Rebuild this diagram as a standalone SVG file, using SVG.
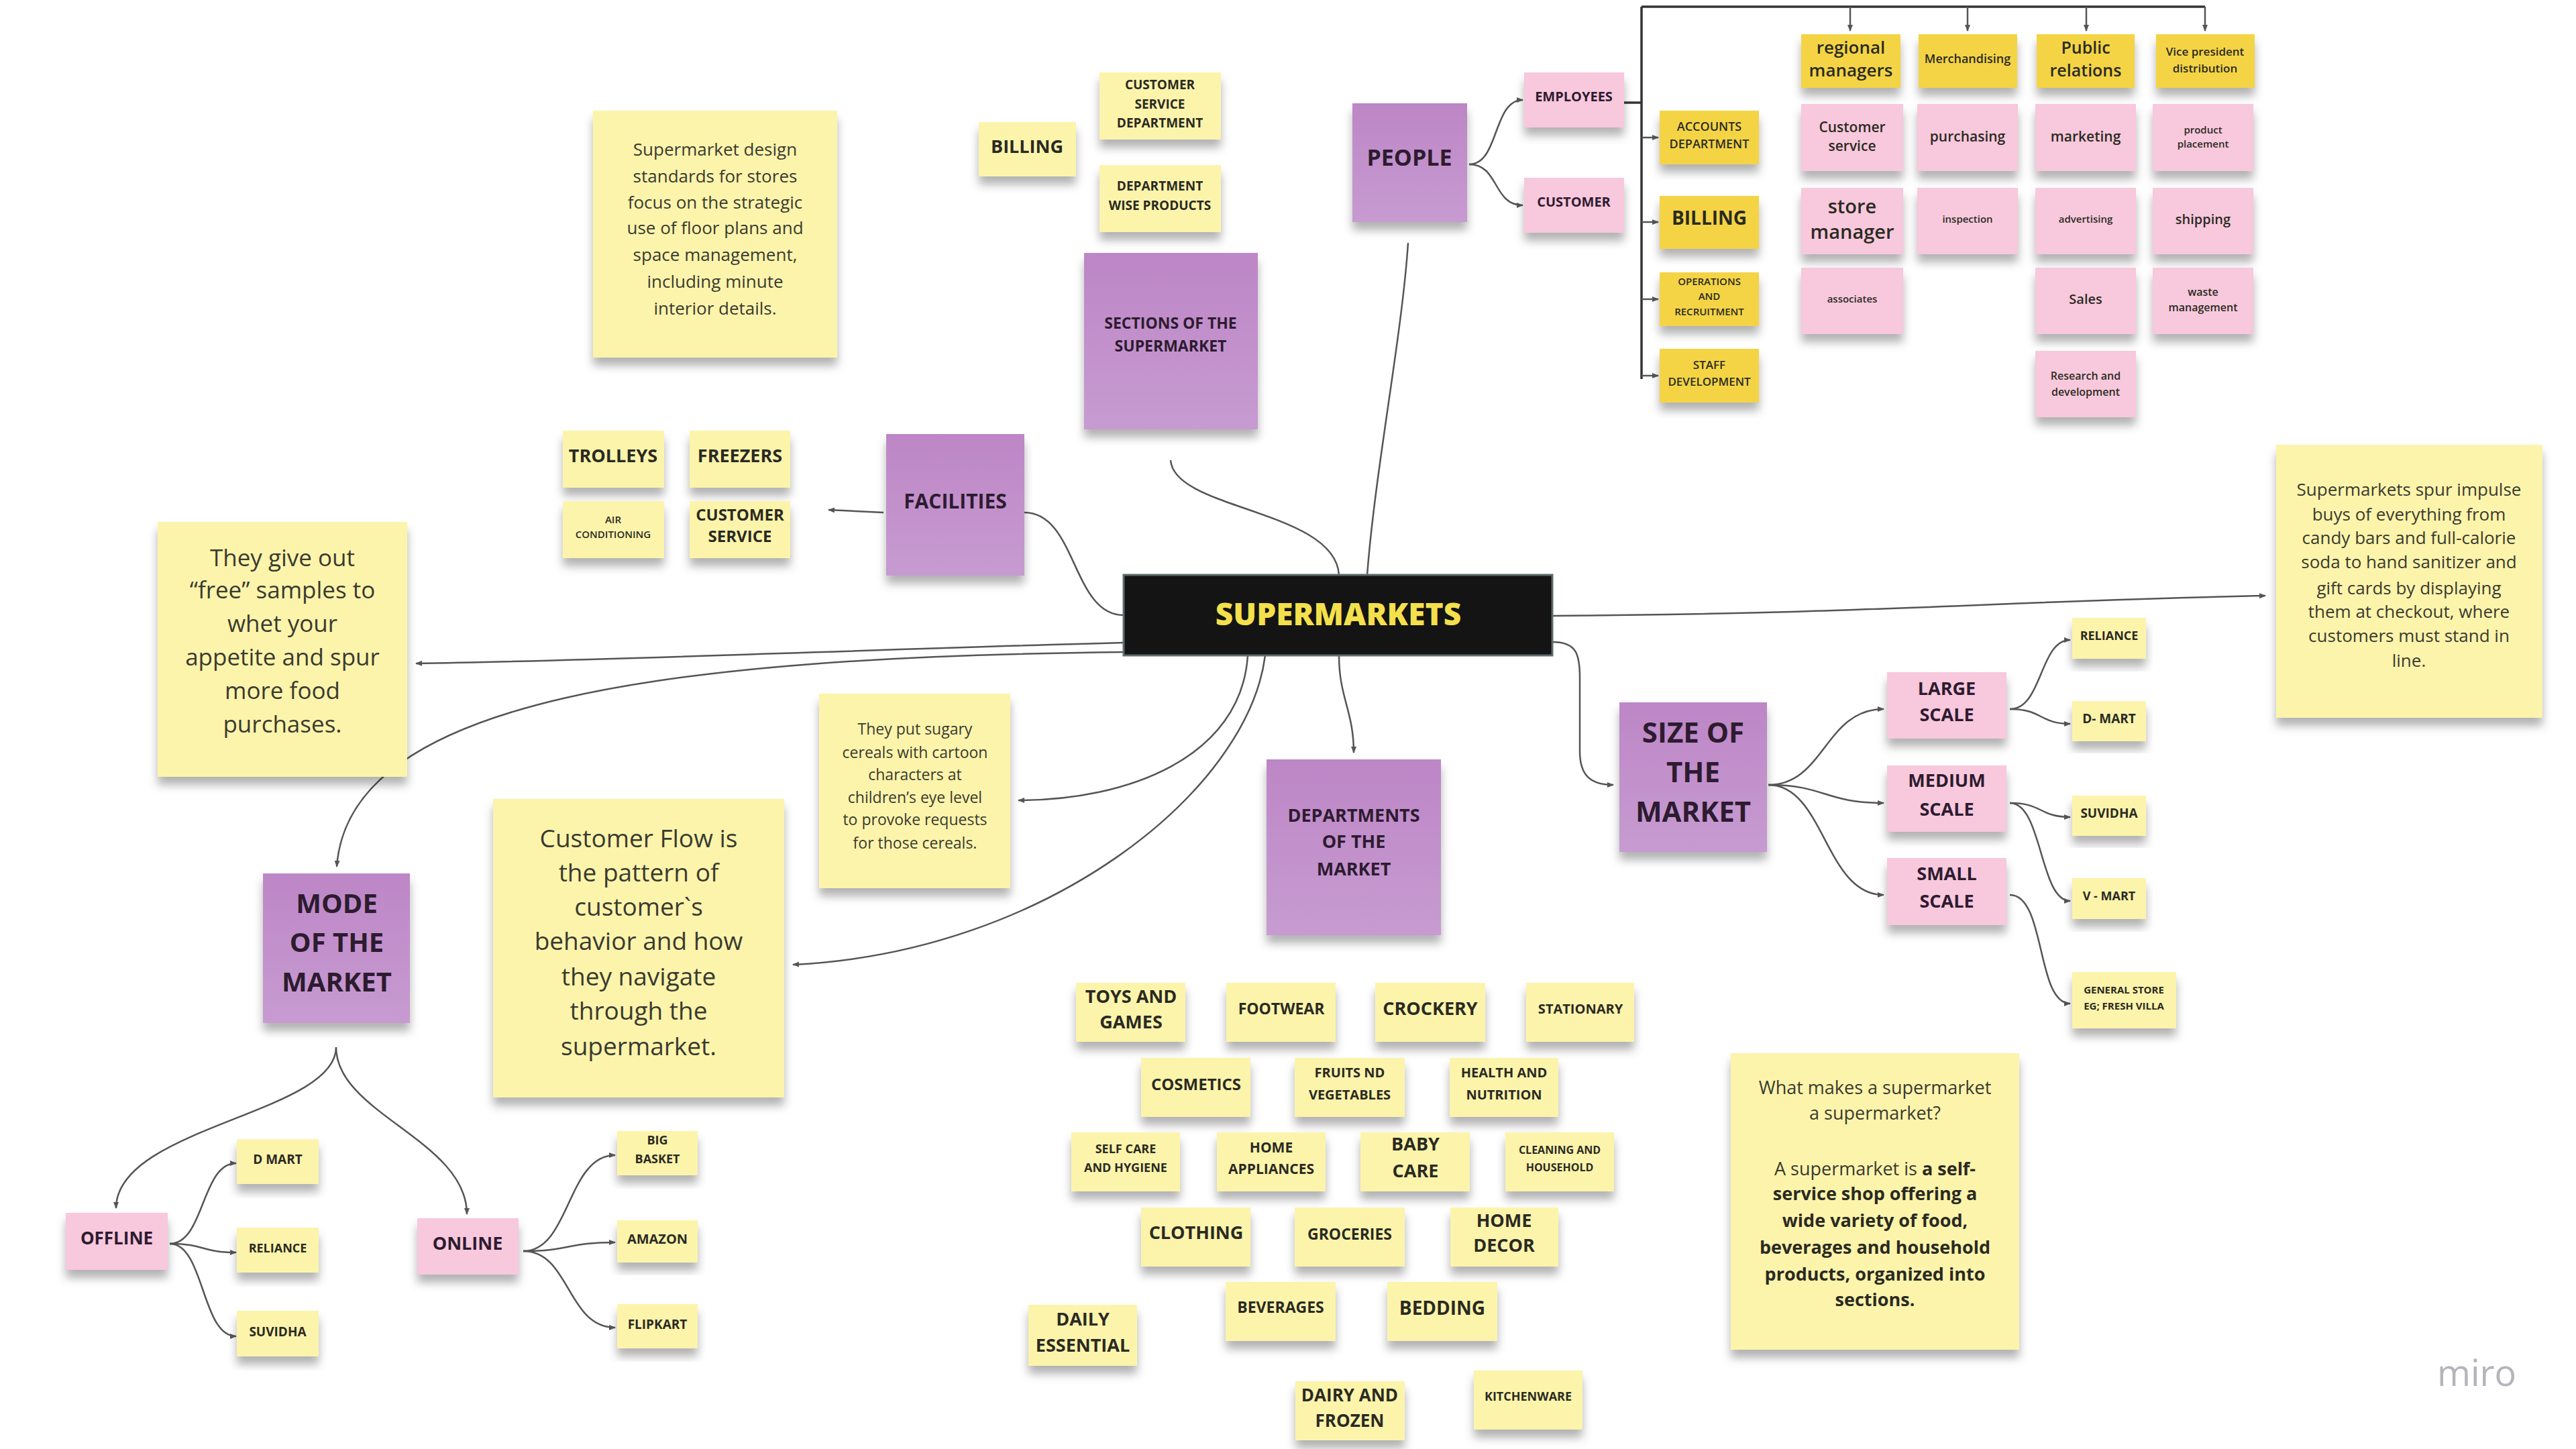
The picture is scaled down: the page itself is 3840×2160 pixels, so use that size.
<svg xmlns="http://www.w3.org/2000/svg" width="3840" height="2160" viewBox="0 0 3840 2160">
<defs>
<filter id="sh" x="-10%" y="-10%" width="120%" height="140%"><feDropShadow dx="0" dy="12" stdDeviation="7" flood-color="#000" flood-opacity="0.3"/></filter>
<linearGradient id="pg" x1="0" y1="0" x2="0" y2="1"><stop offset="0" stop-color="#bd86c6"/><stop offset="1" stop-color="#c79bd1"/></linearGradient>
<marker id="ar" viewBox="0 0 10 10" refX="9" refY="5" markerWidth="4" markerHeight="4" orient="auto-start-reverse"><path d="M0,1 L10,5 L0,9 z" fill="#555"/></marker>
<style>
.ly{fill:#fcf4ab;filter:url(#sh)}
.gd{fill:#f4d444;filter:url(#sh)}
.pk{fill:#f8c8dc;filter:url(#sh)}
.pu{fill:url(#pg);filter:url(#sh)}
.tx{font-family:"Open Sans","Liberation Sans",sans-serif;text-anchor:middle;fill:#2a2a22}
.bd{font-weight:700}
.sb{font-weight:600}
.rg{font-weight:400;fill:#3a3a30}
.pt{fill:#2d1b30;font-weight:700}
.c{fill:none;stroke:#555;stroke-width:2.5}
.ca{fill:none;stroke:#555;stroke-width:2.5;marker-end:url(#ar)}
.oc{fill:none;stroke:#333;stroke-width:3.5}
</style>
</defs>
<rect width="3840" height="2160" fill="#ffffff"/>

<g id="connectors">
<path class="oc" d="M2421,153 L2447,153 M2447,10 L2447,565 M2447,10 L3287,10"/>
<path class="ca" d="M2758,10 L2758,46"/>
<path class="ca" d="M2933,10 L2933,46"/>
<path class="ca" d="M3110,10 L3110,46"/>
<path class="ca" d="M3287,10 L3287,46"/>
<path class="ca" d="M2447,205 L2472,205"/>
<path class="ca" d="M2447,331 L2472,331"/>
<path class="ca" d="M2447,446 L2472,446"/>
<path class="ca" d="M2447,560 L2472,560"/>
<path class="ca" d="M2190,245 C2235,245 2225,149 2270,149"/>
<path class="ca" d="M2190,245 C2235,245 2225,306 2270,306"/>
<path class="c" d="M2038,857 C2050,700 2090,500 2099,362"/>
<path class="c" d="M1745,686 C1750,760 1990,760 1996,857"/>
<path class="c" d="M1527,764 C1605,764 1598,917 1675,917"/>
<path class="ca" d="M1317,764 L1235,760"/>
<path class="ca" d="M1675,958 C1300,968 900,985 620,989"/>
<path class="ca" d="M1675,972 C1000,980 520,1040 502,1292"/>
<path class="ca" d="M1860,977 C1850,1130 1680,1193 1518,1193"/>
<path class="ca" d="M1886,977 C1860,1180 1560,1420 1182,1438"/>
<path class="ca" d="M1996,977 C1996,1040 2018,1060 2018,1122"/>
<path class="ca" d="M2314,918 C2800,915 3000,895 3377,888"/>
<path class="ca" d="M2314,957 C2350,957 2355,975 2355,1010 L2355,1120 C2355,1155 2370,1170 2405,1170"/>
<path class="ca" d="M2636,1170 C2720,1170 2720,1057 2808,1057"/>
<path class="ca" d="M2636,1170 C2720,1170 2720,1197 2808,1197"/>
<path class="ca" d="M2636,1170 C2720,1170 2720,1334 2808,1334"/>
<path class="ca" d="M2996,1057 C3045,1057 3040,954 3086,954"/>
<path class="ca" d="M2996,1057 C3045,1057 3040,1079 3086,1079"/>
<path class="ca" d="M2996,1197 C3045,1197 3040,1218 3086,1218"/>
<path class="ca" d="M2996,1197 C3045,1197 3040,1343 3086,1343"/>
<path class="ca" d="M2996,1334 C3050,1334 3035,1496 3086,1496"/>
<path class="ca" d="M501,1561 C501,1660 173,1680 173,1801"/>
<path class="ca" d="M501,1561 C501,1660 696,1700 696,1810"/>
<path class="ca" d="M253,1854 C305,1854 300,1734 352,1734"/>
<path class="ca" d="M253,1854 C305,1854 300,1867 352,1867"/>
<path class="ca" d="M253,1854 C305,1854 300,1992 352,1992"/>
<path class="ca" d="M780,1865 C850,1865 845,1722 917,1722"/>
<path class="ca" d="M780,1865 C850,1865 845,1852 917,1852"/>
<path class="ca" d="M780,1865 C850,1865 845,1979 917,1979"/>
</g>

<g id="supermarkets">
<rect x="1675" y="857" width="639" height="120" fill="#141414" stroke="#5d6c6c" stroke-width="3"/>
<text x="1995" y="932" class="tx" style="font-weight:800;font-size:46px;fill:#f4e04c">SUPERMARKETS</text>
</g>

<g id="people"><rect class="pu" x="2016" y="154" width="171" height="177"/><text class="tx pt" x="2101" y="247" font-size="34">PEOPLE</text></g>
<g id="employees"><rect class="pk" x="2272" y="108" width="149" height="82"/><text class="tx pt" x="2346" y="151" font-size="20">EMPLOYEES</text></g>
<g id="customer"><rect class="pk" x="2272" y="265" width="149" height="82"/><text class="tx pt" x="2346" y="308" font-size="20">CUSTOMER</text></g>

<g id="accounts"><rect class="gd" x="2474" y="165" width="148" height="80"/><text class="tx sb" x="2548" y="195" font-size="18">ACCOUNTS</text><text class="tx sb" x="2548" y="221" font-size="18">DEPARTMENT</text></g>
<g id="billing-org"><rect class="gd" x="2474" y="292" width="148" height="79"/><text class="tx bd" x="2548" y="335" font-size="28">BILLING</text></g>
<g id="operations"><rect class="gd" x="2474" y="406" width="148" height="80"/><text class="tx sb" x="2548" y="425" font-size="15">OPERATIONS</text><text class="tx sb" x="2548" y="447" font-size="15">AND</text><text class="tx sb" x="2548" y="470" font-size="15">RECRUITMENT</text></g>
<g id="staff"><rect class="gd" x="2474" y="520" width="148" height="80"/><text class="tx sb" x="2548" y="550" font-size="17">STAFF</text><text class="tx sb" x="2548" y="575" font-size="17">DEVELOPMENT</text></g>

<g id="regional"><rect class="gd" x="2685" y="51" width="148" height="80"/><text class="tx sb" x="2759" y="80" font-size="26">regional</text><text class="tx sb" x="2759" y="114" font-size="26">managers</text></g>
<g id="merchandising"><rect class="gd" x="2860" y="51" width="147" height="80"/><text class="tx sb" x="2933" y="94" font-size="18">Merchandising</text></g>
<g id="public"><rect class="gd" x="3036" y="51" width="146" height="80"/><text class="tx sb" x="3109" y="80" font-size="25">Public</text><text class="tx sb" x="3109" y="114" font-size="25">relations</text></g>
<g id="vp"><rect class="gd" x="3214" y="51" width="147" height="80"/><text class="tx sb" x="3287" y="83" font-size="17">Vice president</text><text class="tx sb" x="3287" y="108" font-size="17">distribution</text></g>

<g id="custservice"><rect class="pk" x="2685" y="155" width="152" height="100"/><text class="tx sb" x="2761" y="197" font-size="21">Customer</text><text class="tx sb" x="2761" y="225" font-size="21">service</text></g>
<g id="purchasing"><rect class="pk" x="2858" y="155" width="150" height="100"/><text class="tx sb" x="2933" y="211" font-size="21">purchasing</text></g>
<g id="marketing"><rect class="pk" x="3034" y="155" width="150" height="100"/><text class="tx sb" x="3109" y="211" font-size="21">marketing</text></g>
<g id="placement"><rect class="pk" x="3209" y="155" width="150" height="100"/><text class="tx sb" x="3284" y="199" font-size="15">product</text><text class="tx sb" x="3284" y="220" font-size="15">placement</text></g>
<g id="storemanager"><rect class="pk" x="2685" y="280" width="152" height="99"/><text class="tx sb" x="2761" y="318" font-size="29">store</text><text class="tx sb" x="2761" y="356" font-size="29">manager</text></g>
<g id="inspection"><rect class="pk" x="2858" y="280" width="150" height="99"/><text class="tx sb" x="2933" y="332" font-size="15">inspection</text></g>
<g id="advertising"><rect class="pk" x="3034" y="280" width="150" height="99"/><text class="tx sb" x="3109" y="332" font-size="15">advertising</text></g>
<g id="shipping"><rect class="pk" x="3209" y="280" width="150" height="99"/><text class="tx sb" x="3284" y="334" font-size="20">shipping</text></g>
<g id="associates"><rect class="pk" x="2685" y="399" width="152" height="99"/><text class="tx sb" x="2761" y="451" font-size="15">associates</text></g>
<g id="sales"><rect class="pk" x="3034" y="399" width="150" height="99"/><text class="tx sb" x="3109" y="453" font-size="20">Sales</text></g>
<g id="waste"><rect class="pk" x="3209" y="399" width="150" height="99"/><text class="tx sb" x="3284" y="441" font-size="16">waste</text><text class="tx sb" x="3284" y="464" font-size="16">management</text></g>
<g id="research"><rect class="pk" x="3034" y="523" width="150" height="99"/><text class="tx sb" x="3109" y="566" font-size="16">Research and</text><text class="tx sb" x="3109" y="590" font-size="16">development</text></g>

<g id="billing"><rect class="ly" x="1459" y="182" width="145" height="81"/><text class="tx bd" x="1531" y="228" font-size="27">BILLING</text></g>
<g id="csdept"><rect class="ly" x="1639" y="108" width="181" height="100"/><text class="tx bd" x="1729" y="133" font-size="19">CUSTOMER</text><text class="tx bd" x="1729" y="162" font-size="19">SERVICE</text><text class="tx bd" x="1729" y="190" font-size="19">DEPARTMENT</text></g>
<g id="deptwise"><rect class="ly" x="1639" y="246" width="181" height="100"/><text class="tx bd" x="1729" y="284" font-size="19">DEPARTMENT</text><text class="tx bd" x="1729" y="313" font-size="19">WISE PRODUCTS</text></g>
<g id="sections"><rect class="pu" x="1616" y="377" width="259" height="263"/><text class="tx pt" x="1745" y="490" font-size="23">SECTIONS OF THE</text><text class="tx pt" x="1745" y="524" font-size="23">SUPERMARKET</text></g>

<g id="design-note"><rect class="ly" x="884" y="165" width="364" height="368"/>
<text class="tx rg" font-size="26" x="1066"><tspan x="1066" y="232">Supermarket design</tspan><tspan x="1066" y="272">standards for stores</tspan><tspan x="1066" y="311">focus on the strategic</tspan><tspan x="1066" y="349">use of floor plans and</tspan><tspan x="1066" y="389">space management,</tspan><tspan x="1066" y="429">including minute</tspan><tspan x="1066" y="469">interior details.</tspan></text></g>

<g id="trolleys"><rect class="ly" x="839" y="642" width="151" height="85"/><text class="tx bd" x="914" y="689" font-size="27">TROLLEYS</text></g>
<g id="freezers"><rect class="ly" x="1028" y="642" width="150" height="85"/><text class="tx bd" x="1103" y="689" font-size="27">FREEZERS</text></g>
<g id="aircon"><rect class="ly" x="839" y="747" width="151" height="85"/><text class="tx sb" x="914" y="780" font-size="15">AIR</text><text class="tx sb" x="914" y="802" font-size="15">CONDITIONING</text></g>
<g id="custserv-fac"><rect class="ly" x="1028" y="747" width="150" height="85"/><text class="tx bd" x="1103" y="776" font-size="24">CUSTOMER</text><text class="tx bd" x="1103" y="808" font-size="24">SERVICE</text></g>
<g id="facilities"><rect class="pu" x="1321" y="647" width="206" height="211"/><text class="tx pt" x="1424" y="758" font-size="30">FACILITIES</text></g>

<g id="samples-note"><rect class="ly" x="235" y="778" width="372" height="380"/>
<text class="tx rg" font-size="35" x="421"><tspan x="421" y="844">They give out</tspan><tspan x="421" y="892">“free” samples to</tspan><tspan x="421" y="942">whet your</tspan><tspan x="421" y="992">appetite and spur</tspan><tspan x="421" y="1042">more food</tspan><tspan x="421" y="1092">purchases.</tspan></text></g>

<g id="mode"><rect class="pu" x="392" y="1302" width="219" height="223"/><text class="tx pt" x="502" y="1361" font-size="40">MODE</text><text class="tx pt" x="502" y="1419" font-size="40">OF THE</text><text class="tx pt" x="502" y="1478" font-size="40">MARKET</text></g>
<g id="offline"><rect class="pk" x="98" y="1808" width="152" height="85"/><text class="tx pt" x="174" y="1855" font-size="26">OFFLINE</text></g>
<g id="online"><rect class="pk" x="622" y="1816" width="151" height="84"/><text class="tx pt" x="697" y="1863" font-size="27">ONLINE</text></g>
<g id="dmart"><rect class="ly" x="353" y="1698" width="122" height="67"/><text class="tx bd" x="414" y="1735" font-size="19">D MART</text></g>
<g id="reliance"><rect class="ly" x="353" y="1830" width="122" height="67"/><text class="tx bd" x="414" y="1867" font-size="18">RELIANCE</text></g>
<g id="suvidha"><rect class="ly" x="353" y="1954" width="122" height="68"/><text class="tx bd" x="414" y="1992" font-size="19">SUVIDHA</text></g>
<g id="bigbasket"><rect class="ly" x="920" y="1686" width="120" height="66"/><text class="tx bd" x="980" y="1706" font-size="18">BIG</text><text class="tx bd" x="980" y="1734" font-size="18">BASKET</text></g>
<g id="amazon"><rect class="ly" x="920" y="1819" width="120" height="63"/><text class="tx bd" x="980" y="1854" font-size="20">AMAZON</text></g>
<g id="flipkart"><rect class="ly" x="920" y="1944" width="120" height="66"/><text class="tx bd" x="980" y="1981" font-size="19">FLIPKART</text></g>

<g id="flow-note"><rect class="ly" x="735" y="1191" width="434" height="445"/>
<text class="tx rg" font-size="37" x="952"><tspan x="952" y="1263">Customer Flow is</tspan><tspan x="952" y="1314">the pattern of</tspan><tspan x="952" y="1365">customer`s</tspan><tspan x="952" y="1416">behavior and how</tspan><tspan x="952" y="1469">they navigate</tspan><tspan x="952" y="1520">through the</tspan><tspan x="952" y="1573">supermarket.</tspan></text></g>
<g id="sugary-note"><rect class="ly" x="1221" y="1034" width="285" height="290"/>
<text class="tx rg" font-size="23" x="1364"><tspan x="1364" y="1095">They put sugary</tspan><tspan x="1364" y="1130">cereals with cartoon</tspan><tspan x="1364" y="1163">characters at</tspan><tspan x="1364" y="1197">children’s eye level</tspan><tspan x="1364" y="1230">to provoke requests</tspan><tspan x="1364" y="1265">for those cereals.</tspan></text></g>

<g id="departments"><rect class="pu" x="1888" y="1132" width="260" height="262"/><text class="tx pt" x="2018" y="1225" font-size="27">DEPARTMENTS</text><text class="tx pt" x="2018" y="1264" font-size="27">OF THE</text><text class="tx pt" x="2018" y="1305" font-size="27">MARKET</text></g>
<g id="toys"><rect class="ly" x="1604" y="1465" width="163" height="88"/><text class="tx bd" x="1686" y="1495" font-size="27">TOYS AND</text><text class="tx bd" x="1686" y="1533" font-size="27">GAMES</text></g>
<g id="footwear"><rect class="ly" x="1828" y="1465" width="163" height="88"/><text class="tx bd" x="1910" y="1512" font-size="23">FOOTWEAR</text></g>
<g id="crockery"><rect class="ly" x="2050" y="1465" width="164" height="88"/><text class="tx bd" x="2132" y="1513" font-size="27">CROCKERY</text></g>
<g id="stationary"><rect class="ly" x="2275" y="1465" width="161" height="88"/><text class="tx bd" x="2356" y="1511" font-size="20">STATIONARY</text></g>
<g id="cosmetics"><rect class="ly" x="1701" y="1577" width="163" height="88"/><text class="tx bd" x="1783" y="1625" font-size="24">COSMETICS</text></g>
<g id="fruits"><rect class="ly" x="1930" y="1577" width="164" height="88"/><text class="tx bd" x="2012" y="1606" font-size="20">FRUITS ND</text><text class="tx bd" x="2012" y="1639" font-size="20">VEGETABLES</text></g>
<g id="health"><rect class="ly" x="2161" y="1577" width="162" height="88"/><text class="tx bd" x="2242" y="1606" font-size="20">HEALTH AND</text><text class="tx bd" x="2242" y="1639" font-size="20">NUTRITION</text></g>
<g id="selfcare"><rect class="ly" x="1597" y="1688" width="162" height="88"/><text class="tx bd" x="1678" y="1719" font-size="18">SELF CARE</text><text class="tx bd" x="1678" y="1747" font-size="18">AND HYGIENE</text></g>
<g id="appliances"><rect class="ly" x="1814" y="1688" width="162" height="88"/><text class="tx bd" x="1895" y="1718" font-size="21">HOME</text><text class="tx bd" x="1895" y="1750" font-size="21">APPLIANCES</text></g>
<g id="babycare"><rect class="ly" x="2028" y="1688" width="163" height="88"/><text class="tx bd" x="2110" y="1715" font-size="27">BABY</text><text class="tx bd" x="2110" y="1755" font-size="27">CARE</text></g>
<g id="cleaning"><rect class="ly" x="2244" y="1688" width="162" height="88"/><text class="tx bd" x="2325" y="1720" font-size="16">CLEANING AND</text><text class="tx bd" x="2325" y="1746" font-size="16">HOUSEHOLD</text></g>
<g id="clothing"><rect class="ly" x="1701" y="1800" width="163" height="88"/><text class="tx bd" x="1783" y="1847" font-size="27">CLOTHING</text></g>
<g id="groceries"><rect class="ly" x="1930" y="1800" width="164" height="88"/><text class="tx bd" x="2012" y="1848" font-size="23">GROCERIES</text></g>
<g id="homedecor"><rect class="ly" x="2162" y="1800" width="161" height="88"/><text class="tx bd" x="2242" y="1829" font-size="27">HOME</text><text class="tx bd" x="2242" y="1866" font-size="27">DECOR</text></g>
<g id="beverages"><rect class="ly" x="1827" y="1911" width="164" height="88"/><text class="tx bd" x="1909" y="1957" font-size="23">BEVERAGES</text></g>
<g id="bedding"><rect class="ly" x="2068" y="1911" width="164" height="88"/><text class="tx bd" x="2150" y="1960" font-size="28">BEDDING</text></g>
<g id="daily"><rect class="ly" x="1533" y="1945" width="162" height="91"/><text class="tx bd" x="1614" y="1976" font-size="27">DAILY</text><text class="tx bd" x="1614" y="2015" font-size="27">ESSENTIAL</text></g>
<g id="dairy"><rect class="ly" x="1931" y="2059" width="163" height="88"/><text class="tx bd" x="2012" y="2089" font-size="26">DAIRY AND</text><text class="tx bd" x="2012" y="2127" font-size="26">FROZEN</text></g>
<g id="kitchenware"><rect class="ly" x="2197" y="2043" width="162" height="88"/><text class="tx bd" x="2278" y="2088" font-size="18">KITCHENWARE</text></g>

<g id="size"><rect class="pu" x="2414" y="1047" width="220" height="223"/><text class="tx pt" x="2524" y="1107" font-size="42">SIZE OF</text><text class="tx pt" x="2524" y="1166" font-size="42">THE</text><text class="tx pt" x="2524" y="1225" font-size="42">MARKET</text></g>
<g id="large"><rect class="pk" x="2813" y="1002" width="178" height="99"/><text class="tx pt" x="2902" y="1036" font-size="27">LARGE</text><text class="tx pt" x="2902" y="1075" font-size="27">SCALE</text></g>
<g id="medium"><rect class="pk" x="2813" y="1141" width="178" height="99"/><text class="tx pt" x="2902" y="1173" font-size="27">MEDIUM</text><text class="tx pt" x="2902" y="1216" font-size="27">SCALE</text></g>
<g id="small"><rect class="pk" x="2813" y="1279" width="178" height="100"/><text class="tx pt" x="2902" y="1312" font-size="27">SMALL</text><text class="tx pt" x="2902" y="1353" font-size="27">SCALE</text></g>
<g id="reliance2"><rect class="ly" x="3089" y="921" width="110" height="61"/><text class="tx bd" x="3144" y="954" font-size="18">RELIANCE</text></g>
<g id="dmart2"><rect class="ly" x="3089" y="1045" width="110" height="60"/><text class="tx bd" x="3144" y="1078" font-size="19">D- MART</text></g>
<g id="suvidha2"><rect class="ly" x="3089" y="1186" width="110" height="60"/><text class="tx bd" x="3144" y="1219" font-size="19">SUVIDHA</text></g>
<g id="vmart"><rect class="ly" x="3089" y="1309" width="110" height="61"/><text class="tx bd" x="3144" y="1342" font-size="18">V - MART</text></g>
<g id="general"><rect class="ly" x="3089" y="1449" width="155" height="84"/><text class="tx bd" x="3166" y="1481" font-size="15">GENERAL STORE</text><text class="tx bd" x="3166" y="1505" font-size="15">EG; FRESH VILLA</text></g>

<g id="impulse-note"><rect class="ly" x="3393" y="663" width="397" height="407"/>
<text class="tx rg" font-size="26" x="3591"><tspan x="3591" y="739">Supermarkets spur impulse</tspan><tspan x="3591" y="776">buys of everything from</tspan><tspan x="3591" y="811">candy bars and full-calorie</tspan><tspan x="3591" y="847">soda to hand sanitizer and</tspan><tspan x="3591" y="886">gift cards by displaying</tspan><tspan x="3591" y="921">them at checkout, where</tspan><tspan x="3591" y="957">customers must stand in</tspan><tspan x="3591" y="994">line.</tspan></text></g>
<g id="what-note"><rect class="ly" x="2580" y="1570" width="430" height="442"/>
<text class="tx rg" font-size="27" x="2795"><tspan x="2795" y="1631">What makes a supermarket</tspan><tspan x="2795" y="1669">a supermarket?</tspan><tspan x="2795" y="1752">A supermarket is <tspan font-weight="700" fill="#2a2a22">a self-</tspan></tspan></text>
<text class="tx bd" font-size="27" x="2795"><tspan x="2795" y="1789">service shop offering a</tspan><tspan x="2795" y="1829">wide variety of food,</tspan><tspan x="2795" y="1869">beverages and household</tspan><tspan x="2795" y="1909">products, organized into</tspan><tspan x="2795" y="1947">sections.</tspan></text></g>

<g id="logo"><text x="3692" y="2066" class="tx" style="font-size:54px;fill:#b4b4bc;font-weight:400">miro</text></g>
</svg>
